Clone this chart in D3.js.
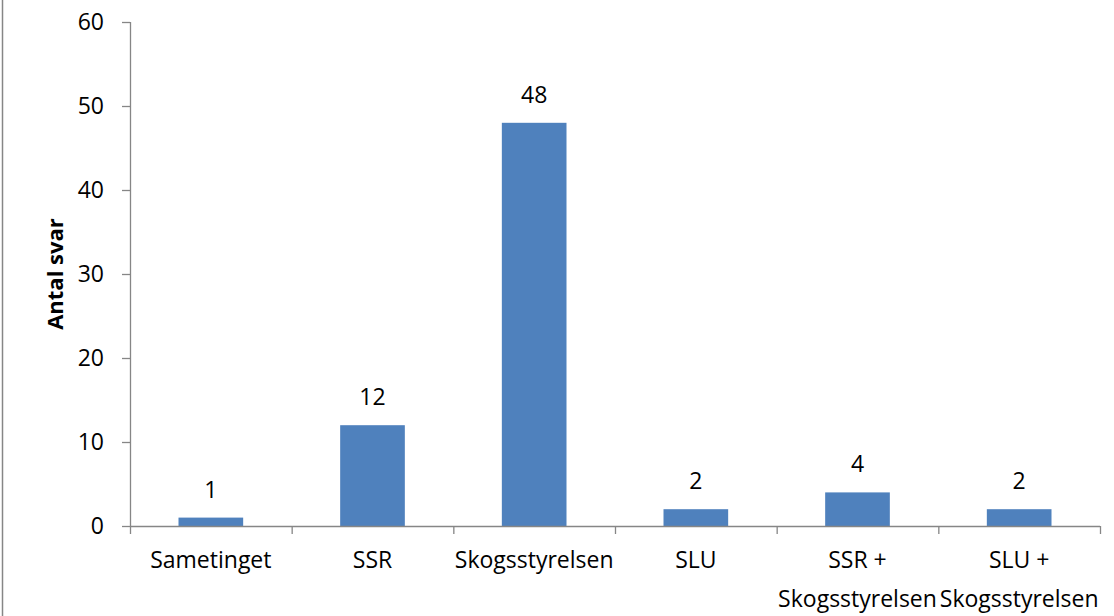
<!DOCTYPE html>
<html>
<head>
<meta charset="utf-8">
<script src="https://cdn.jsdelivr.net/npm/d3@7"></script>
<style>
  body { margin: 0; background: #fff; }
  svg text { font-family: "Open Sans", "Noto Sans", sans-serif; fill: #000; }
</style>
</head>
<body>
<svg id="chart" width="1114" height="616"></svg>
<script>
// data
var kategorier = ["Sametinget", "SSR", "Skogsstyrelsen", "SLU", "SSR + Skogsstyrelsen", "SLU + Skogsstyrelsen"];
var etiketter = [["Sametinget"], ["SSR"], ["Skogsstyrelsen"], ["SLU"], ["SSR +", "Skogsstyrelsen"], ["SLU +", "Skogsstyrelsen"]];
var antal = [1, 12, 48, 2, 4, 2];
var yTicks = [0, 10, 20, 30, 40, 50, 60];

const width = 1114;
const height = 616;
const mLeft = 130, mRight = 1100, mTop = 22, mBottom = 526;
const fs = 23;

var svg = d3.select("#chart");

// ram till vänster
svg.append("line")
    .attr("x1", 2.5).attr("x2", 2.5)
    .attr("y1", 0).attr("y2", height)
    .attr("stroke", "#868686").attr("stroke-width", 1.5);

var x = d3.scaleBand()
    .domain(kategorier)
    .range([mLeft, mRight])
    .paddingInner(0.6)
    .paddingOuter(0.3);

var y = d3.scaleLinear()
    .domain([0, 60])
    .range([mBottom, mTop]);

// y-axel
var yAxis = svg.append("g")
    .attr("transform", `translate(${mLeft},0)`)
    .call(d3.axisLeft(y).tickValues(yTicks).tickSize(8).tickPadding(18));
yAxis.select(".domain").attr("stroke", "#868686").attr("stroke-width", 1.3)
    .attr("d", `M0.5,${mTop}V${mBottom}`);
yAxis.selectAll(".tick line").attr("stroke", "#868686").attr("stroke-width", 1.3);
yAxis.selectAll(".tick text").attr("font-size", fs).attr("fill", "#000")
    .style("font-family", "'Open Sans', sans-serif");

// staplar
svg.append("g")
  .selectAll("rect")
  .data(antal)
  .join("rect")
    .attr("x", (d, i) => x(kategorier[i]))
    .attr("y", d => y(d))
    .attr("width", x.bandwidth())
    .attr("height", d => y(0) - y(d))
    .attr("fill", "#4F81BD");

// x-axel
var step = x.step();
svg.append("line")
    .attr("x1", mLeft).attr("x2", mRight)
    .attr("y1", mBottom + 0.5).attr("y2", mBottom + 0.5)
    .attr("stroke", "#868686").attr("stroke-width", 1.3);
svg.append("g")
  .selectAll("line")
  .data(d3.range(kategorier.length + 1))
  .join("line")
    .attr("x1", i => mLeft + i * step + 0.5)
    .attr("x2", i => mLeft + i * step + 0.5)
    .attr("y1", mBottom)
    .attr("y2", mBottom + 8)
    .attr("stroke", "#868686").attr("stroke-width", 1.3);

// värden
svg.append("g")
  .selectAll("text")
  .data(antal)
  .join("text")
    .attr("x", (d, i) => x(kategorier[i]) + x.bandwidth() / 2)
    .attr("y", d => y(d) - 20)
    .attr("text-anchor", "middle")
    .attr("font-size", fs)
    .text(d => d);

// kategorietiketter
var lab = svg.append("g")
  .selectAll("text")
  .data(etiketter)
  .join("text")
    .attr("x", (d, i) => x(kategorier[i]) + x.bandwidth() / 2)
    .attr("y", 568)
    .attr("text-anchor", "middle")
    .attr("font-size", fs);
lab.selectAll("tspan")
  .data(d => d)
  .join("tspan")
    .attr("x", function() { return this.parentNode.getAttribute("x"); })
    .attr("dy", (d, j) => j === 0 ? 0 : 39)
    .text(d => d);

// y-titel
svg.append("text")
    .attr("transform", "translate(63,274) rotate(-90)")
    .attr("text-anchor", "middle")
    .attr("font-size", 22)
    .attr("font-weight", "bold")
    .text("Antal svar");
</script>
</body>
</html>
